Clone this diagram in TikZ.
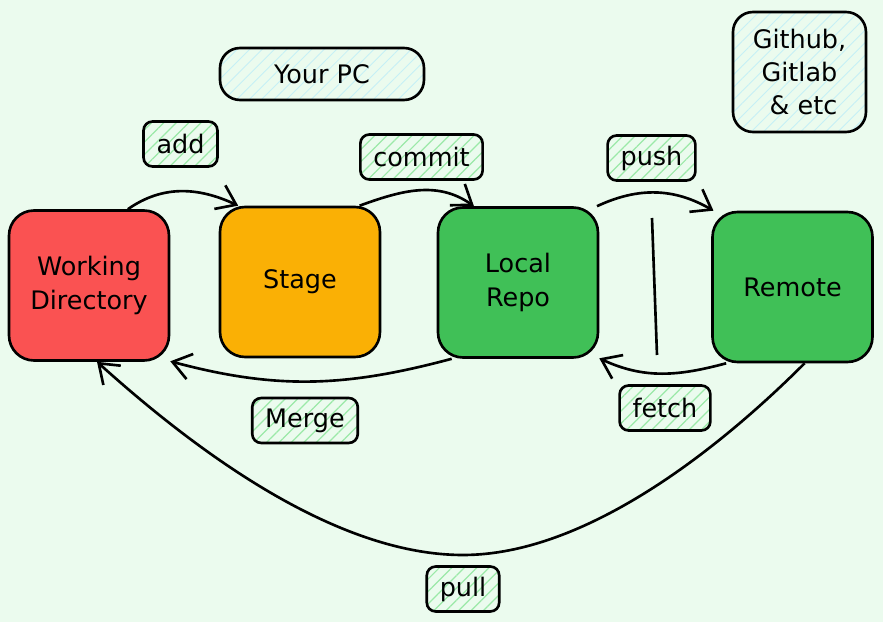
\documentclass[tikz,border=0pt]{standalone}
\usepackage{fontspec}
\setmainfont{DejaVu Sans}
\usepackage{xcolor}
\usepackage{tikz}
\usetikzlibrary{arrows.meta,patterns.meta,calc}

\definecolor{bgmint}{HTML}{EBFBEE}
\definecolor{wdred}{HTML}{FA5252}
\definecolor{stageorange}{HTML}{FAB005}
\definecolor{repogreen}{HTML}{40C057}
\definecolor{hatchgreen}{HTML}{9BE9A8}
\definecolor{hatchcyan}{HTML}{C5F0F6}

\begin{document}
\begin{tikzpicture}[x=0.02cm, y=0.02cm, line width=1.5pt,
    font=\fontsize{14.5}{19}\selectfont,
    box/.style={draw, rounded corners=0.5cm, minimum width=3.2cm,
        minimum height=3cm, align=center},
    tag/.style={draw, rounded corners=0.18cm, minimum height=0.9cm,
        inner xsep=0.26cm,
        pattern={Lines[angle=45,distance=5pt,line width=0.7pt]},
        pattern color=hatchgreen},
    note/.style={draw, rounded corners=0.4cm, align=center,
        pattern={Lines[angle=45,distance=5pt,line width=0.5pt]},
        pattern color=hatchcyan},
    flow/.style={-{Straight Barb[length=3.6mm,width=5.2mm]}}]

    % Background
    \fill[bgmint] (0,0) rectangle (883,622);
    \useasboundingbox (0,0) rectangle (883,622);

    % Main boxes
    \foreach \nm/\x/\y/\col/\txt in {wd/89/336.5/wdred/{Working\\Directory},
        stage/300/340/stageorange/Stage, local/518/339.5/repogreen/{Local\\Repo},
        remote/792.5/335/repogreen/Remote} {
        \node[box, fill=\col] (\nm) at (\x,\y) {\txt};
    }

    % Notes
    \node[note, minimum width=4.08cm, minimum height=1.04cm] (pc) at (322,548) {Your PC};
    \node[note, minimum width=2.66cm, minimum height=2.4cm] (host) at (799.5,550)
        {Github,\\Gitlab\\\ \& etc};

    % Labels
    \foreach \nm/\x/\y/\txt in {add/180.5/478/add, commit/421.5/465/commit,
        push/651.5/464/push, merge/305/201.5/Merge, fetch/665/214/fetch,
        pull/463/33/pull} {
        \node[tag] (\nm) at (\x,\y) {\txt};
    }

    % Divider
    \draw (652,404) -- (657,267);

    % Arrows
    \draw[flow] (wd.63) to[out=35, in=155] (stage.129);
    \draw[flow] (stage.52) to[out=20, in=145] (local.120);
    \draw[flow] (local.44) to[out=25, in=150] (remote.136);
    \draw[flow] (local.229) to[out=195, in=-15] (wd.317);
    \draw[flow] (remote.229) to[out=195, in=-25] (local.317);
    \coordinate (dip) at (463,67);
    \draw[flow] (remote.279) to[out=225, in=0, looseness=0.8] (dip)
        to[out=180, in=-42, looseness=0.8] (wd.276);
\end{tikzpicture}
\end{document}
